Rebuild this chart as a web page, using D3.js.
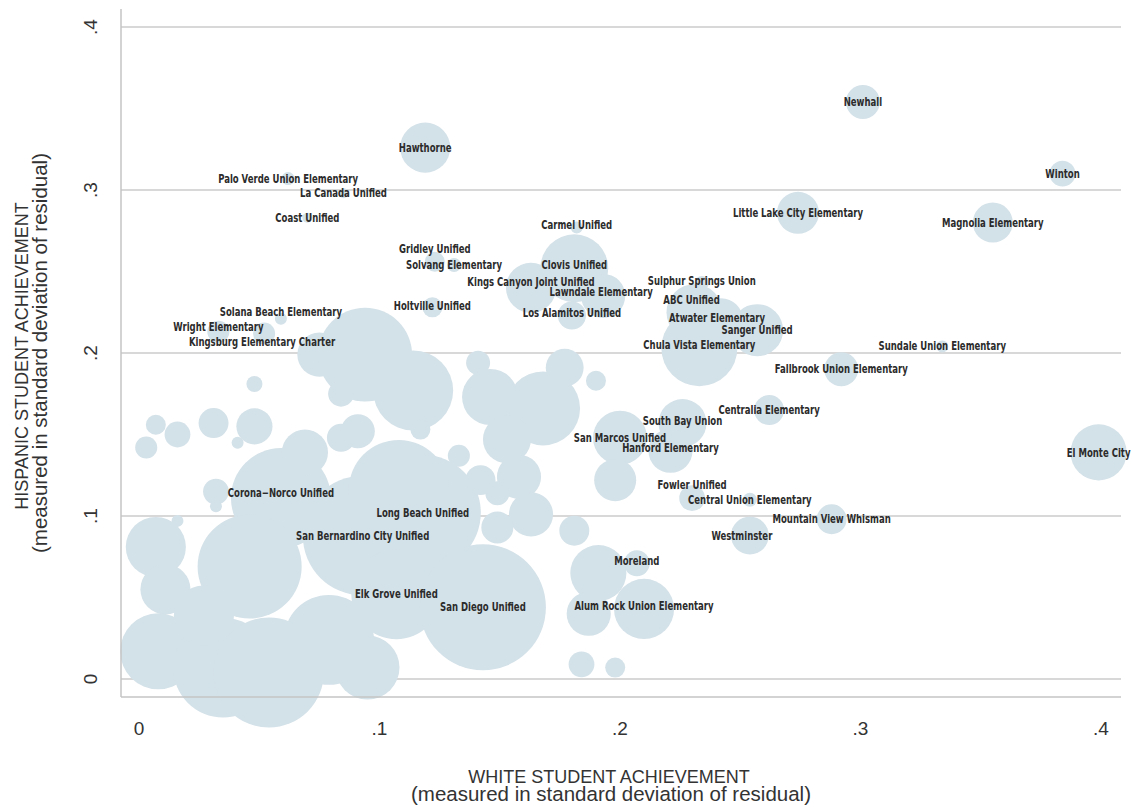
<!DOCTYPE html>
<html>
<head>
<meta charset="utf-8">
<script src="https://cdn.jsdelivr.net/npm/d3@7"></script>
<style>
  body { margin: 0; background: #fff; }
  svg { display: block; }
</style>
</head>
<body>
<div id="plt"></div>
<script>
// District names (blank = unlabelled bubble)
const districts = [
  "Newhall", "Winton", "Hawthorne", "Palo Verde Union Elementary", "La Canada Unified",
  "Coast Unified", "Carmel Unified", "Little Lake City Elementary", "Magnolia Elementary", "Gridley Unified",
  "Solvang Elementary", "Clovis Unified", "Kings Canyon Joint Unified", "Sulphur Springs Union", "Lawndale Elementary",
  "ABC Unified", "Holtville Unified", "Solana Beach Elementary", "Los Alamitos Unified", "Atwater Elementary",
  "Wright Elementary", "Sanger Unified", "Kingsburg Elementary Charter", "Chula Vista Elementary", "Sundale Union Elementary",
  "Fallbrook Union Elementary", "Centralia Elementary", "South Bay Union", "San Marcos Unified", "Hanford Elementary",
  "El Monte City", "Fowler Unified", "Corona\u2212Norco Unified", "Central Union Elementary", "Long Beach Unified",
  "Mountain View Whisman", "San Bernardino City Unified", "Westminster", "Moreland", "Elk Grove Unified",
  "San Diego Unified", "Alum Rock Union Elementary",
  "", "", "", "", "", "", "", "", "", "",
  "", "", "", "", "", "", "", "", "", "",
  "", "", "", "", "", "", "", "", "", "",
  "", "", "", "", "", "", "", "", "", "",
  "", "", "", "", "", "", ""
];

// White student achievement (x)
const whiteAch = [
  0.301, 0.384, 0.119, 0.062, 0.085, 0.070, 0.182, 0.274, 0.355, 0.123,
  0.131, 0.181, 0.163, 0.234, 0.193, 0.231, 0.122, 0.059, 0.180, 0.242,
  0.033, 0.257, 0.052, 0.233, 0.334, 0.292, 0.262, 0.226, 0.200, 0.221,
  0.399, 0.230, 0.059, 0.254, 0.118, 0.288, 0.093, 0.254, 0.207, 0.107,
  0.143, 0.210,
  0.198, 0.181, 0.191, 0.187, 0.184, 0.198, 0.190, 0.003, 0.007, 0.016,
  0.031, 0.048, 0.041, 0.048, 0.032, 0.032, 0.016, 0.007, 0.011, 0.008,
  0.046, 0.035, 0.054, 0.069, 0.075, 0.094, 0.084, 0.084, 0.091, 0.114,
  0.124, 0.117, 0.108, 0.141, 0.146, 0.168, 0.177, 0.153, 0.158, 0.149,
  0.163, 0.149, 0.133, 0.142, 0.095, 0.079, 0.027
];

// Hispanic student achievement (y)
const hispAch = [
  0.354, 0.310, 0.326, 0.307, 0.298, 0.283, 0.277, 0.286, 0.280, 0.256,
  0.254, 0.252, 0.240, 0.243, 0.235, 0.225, 0.228, 0.221, 0.223, 0.220,
  0.213, 0.214, 0.212, 0.203, 0.204, 0.190, 0.165, 0.157, 0.148, 0.140,
  0.139, 0.111, 0.111, 0.110, 0.102, 0.098, 0.088, 0.088, 0.071, 0.052,
  0.044, 0.043,
  0.122, 0.091, 0.065, 0.040, 0.009, 0.007, 0.183, 0.142, 0.156, 0.150,
  0.157, 0.155, 0.145, 0.181, 0.115, 0.106, 0.097, 0.081, 0.055, 0.017,
  0.069, 0.007, 0.004, 0.139, 0.199, 0.199, 0.175, 0.148, 0.152, 0.177,
  0.166, 0.153, 0.116, 0.194, 0.173, 0.166, 0.191, 0.147, 0.124, 0.114,
  0.101, 0.093, 0.137, 0.122, 0.007, 0.024, 0.039
];

// Hispanic enrollment (thousands) -> bubble area
const enrollment = [
  4.5, 2.6, 9.8, 0.66, 0.39, 0.39, 0.56, 6.9, 6.25, 1.56,
  0.77, 18, 9.8, 0.77, 7.6, 12.3, 1.56, 0.56, 3.1, 7.6,
  1.9, 10.6, 1.9, 22.6, 0.56, 4.5, 3.5, 9.0, 11.4, 7.6,
  12.3, 2.6, 39, 0.77, 52.6, 3.5, 56, 5.6, 2.6, 31.6,
  62, 14.1,
  6.9, 3.5, 12.3, 7.6, 2.6, 1.56, 1.56, 1.9, 1.56, 2.6,
  3.5, 5.1, 0.56, 1.0, 2.6, 0.56, 0.56, 14.1, 9.8, 22.6,
  42.3, 39, 47.3, 8.3, 7.6, 34.5, 2.6, 3.1, 4.5, 25,
  0.56, 1.56, 39, 2.25, 12.3, 21.4, 5.6, 9, 7.6, 2.25,
  7.6, 4, 1.9, 3.5, 16, 31.6, 14.1
];

// Axis ticks
const xTicks = [0, 0.1, 0.2, 0.3, 0.4];
const yTicks = [0, 0.1, 0.2, 0.3, 0.4];

// Label nudges in pixels (label placement only)
const labelShift = {
  "Gridley Unified": [0, -13], "Clovis Unified": [0, -3], "Kings Canyon Joint Unified": [0, -6],
  "Sulphur Springs Union": [0, -2], "Lawndale Elementary": [-2, -4], "ABC Unified": [-3, -12],
  "Holtville Unified": [0, -2], "Solana Beach Elementary": [0, -7], "Los Alamitos Unified": [0, -3],
  "Atwater Elementary": [-4, -3], "Wright Elementary": [0, -5], "Kingsburg Elementary Charter": [-2, 8],
  "Chula Vista Elementary": [0, -3], "South Bay Union": [0, -2], "Hanford Elementary": [0, -3],
  "Fowler Unified": [0, -13], "Corona\u2212Norco Unified": [0, -5], "Westminster": [-8, 0],
  "Moreland": [0, -2], "Alum Rock Union Elementary": [0, -3], "Carmel Unified": [0, -3],
  "Sundale Union Elementary": [0, -1], "Fallbrook Union Elementary": [0, -1]
};

const data = districts.map((d, i) => ({
  name: d, x: whiteAch[i], y: hispAch[i], size: enrollment[i]
}));

const W = 1132, H = 807;
const plot = { left: 121, right: 1121, top: 10, bottom: 697 };

const svg = d3.select("#plt").append("svg")
    .attr("width", W)
    .attr("height", H);

const x = d3.scaleLinear()
    .domain([(plot.left - 139) / 2405, (plot.right - 139) / 2405])
    .range([plot.left, plot.right]);
const y = d3.scaleLinear()
    .domain([(679 - plot.bottom) / 1630, (679 - plot.top) / 1630])
    .range([plot.bottom, plot.top]);
const r = d3.scaleSqrt().domain([0, 100]).range([0, 80]);

// gridlines
svg.append("g")
  .selectAll("line")
  .data(yTicks)
  .enter()
  .append("line")
  .attr("x1", plot.left)
  .attr("x2", plot.right)
  .attr("y1", d => y(d))
  .attr("y2", d => y(d))
  .attr("stroke", "#cbcbcb")
  .attr("stroke-width", 1.3);

// bubbles
svg.append("g")
  .selectAll("circle")
  .data(data)
  .enter()
  .append("circle")
  .attr("cx", d => x(d.x))
  .attr("cy", d => y(d.y))
  .attr("r", d => r(d.size))
  .attr("fill", "#d3e1e8");

// axis lines on top
svg.append("line")
  .attr("x1", plot.left).attr("x2", plot.left)
  .attr("y1", plot.top - 1).attr("y2", plot.bottom)
  .attr("stroke", "#c4c4c4").attr("stroke-width", 1.5);
svg.append("line")
  .attr("x1", plot.left).attr("x2", plot.right)
  .attr("y1", plot.bottom).attr("y2", plot.bottom)
  .attr("stroke", "#c4c4c4").attr("stroke-width", 1.5);

const fmt = d => d === 0 ? "0" : d3.format(".1f")(d).replace(/^0/, "");
const sans = "'Liberation Sans', Arial, sans-serif";

// x tick labels
svg.append("g")
  .selectAll("text")
  .data(xTicks)
  .enter()
  .append("text")
  .attr("x", d => x(d))
  .attr("y", 735)
  .attr("text-anchor", "middle")
  .attr("font-family", sans)
  .attr("font-size", 19)
  .attr("fill", "#333")
  .text(fmt);

// y tick labels (rotated)
svg.append("g")
  .selectAll("text")
  .data(yTicks)
  .enter()
  .append("text")
  .attr("transform", d => `translate(97,${y(d)}) rotate(-90)`)
  .attr("text-anchor", "middle")
  .attr("font-family", sans)
  .attr("font-size", 19)
  .attr("fill", "#333")
  .text(fmt);

// axis titles
const title = (tx, ty, rot, size, txt) => svg.append("text")
  .attr("transform", `translate(${tx},${ty}) rotate(${rot})`)
  .attr("text-anchor", "middle")
  .attr("font-family", sans)
  .attr("font-size", size)
  .attr("fill", "#333")
  .text(txt);

title(609, 783, 0, 18, "WHITE STUDENT ACHIEVEMENT");
title(611, 801, 0, 20.5, "(measured in standard deviation of residual)");
title(28, 356, -90, 18, "HISPANIC STUDENT ACHIEVEMENT");
title(47, 353, -90, 20.5, "(measured in standard deviation of residual)");

// district labels (condensed bold)
svg.append("g")
  .selectAll("text")
  .data(data.filter(d => d.name !== ""))
  .enter()
  .append("text")
  .attr("transform", d => {
    const s = labelShift[d.name] || [0, 0];
    return `translate(${x(d.x) + s[0]},${y(d.y) + s[1]}) scale(0.79,1)`;
  })
  .attr("dy", "0.35em")
  .attr("text-anchor", "middle")
  .attr("font-family", "'DejaVu Sans Condensed', 'DejaVu Sans', sans-serif")
  .attr("font-weight", "bold")
  .attr("font-size", 12)
  .attr("fill", "#2b2b2b")
  .text(d => d.name);
</script>
</body>
</html>
